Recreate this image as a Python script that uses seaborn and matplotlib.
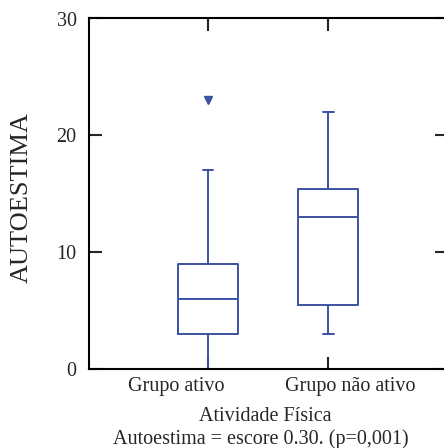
import matplotlib
matplotlib.use("Agg")
import matplotlib.pyplot as plt
import matplotlib.transforms as mtransforms
import seaborn as sns
import pandas as pd

# Data (observations estimated from the reference box plot)
categories = ["Grupo ativo", "Grupo não ativo"]
grupo_ativo = [0, 2, 3, 5, 6, 8, 9, 17, 23]
grupo_nao_ativo = [3, 4, 5.5, 10, 13, 14, 15.4, 20, 22]
y_ticks = [0, 10, 20, 30]
x_label = "Atividade Física"
y_label = "AUTOESTIMA"
note = "Autoestima = escore 0.30. (p=0,001)"

df = pd.DataFrame({
    "grupo": [categories[0]] * len(grupo_ativo) + [categories[1]] * len(grupo_nao_ativo),
    "valor": grupo_ativo + grupo_nao_ativo,
})

sns.set_style("ticks")
plt.rcParams["font.family"] = ["Liberation Serif", "DejaVu Serif"]

blue = "#3b52a3"
fig = plt.figure(figsize=(4.44, 4.48), dpi=100)
ax = fig.add_axes([89 / 444, 79 / 448, 358 / 444, 350.5 / 448])

sns.boxplot(data=df, x="grupo", y="valor", order=categories, ax=ax,
            width=0.5, fill=False, color=blue, linewidth=1.4,
            whis=1.5, capwidths=0.09,
            flierprops=dict(marker="v", markersize=6, markerfacecolor=blue,
                            markeredgecolor=blue))

ax.set_xlim(-0.992, 1.99)
ax.set_ylim(0, 30)
ax.set_yticks(y_ticks)
ax.set_xticks([0, 1])
ax.set_xticklabels(categories)

for s in ax.spines.values():
    s.set_linewidth(1.5)
    s.set_color("black")
    s.set_visible(True)

ax.tick_params(axis="both", direction="in", length=9, width=1.5, labelsize=14.5,
               pad=9, top=True, right=True, labelright=False, labeltop=False)
ax.tick_params(axis="x", pad=6)

# shift category labels as in the reference
for lab, dx in zip(ax.get_xticklabels(), [-32, 22]):
    lab.set_transform(lab.get_transform() +
                      mtransforms.ScaledTranslation(dx / 100, 0, fig.dpi_scale_trans))

ax.set_xlabel("")
ax.set_ylabel(y_label, fontsize=19)
ax.yaxis.set_label_coords(-0.157, 0.49)
fig.text(265 / 444, (448 - 416) / 448, x_label, ha="center", va="center", fontsize=14.5)
fig.text(261 / 444, (448 - 439) / 448, note, ha="center", va="center", fontsize=14.5)

fig.savefig("out.png", dpi=100)
